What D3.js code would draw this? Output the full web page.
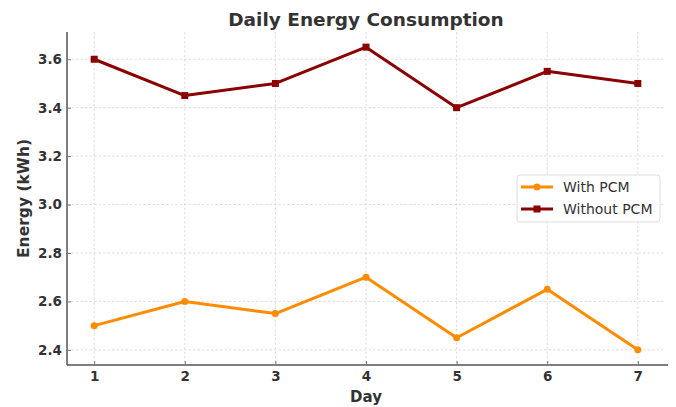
<!DOCTYPE html>
<html><head><meta charset="utf-8">
<script src="https://cdn.jsdelivr.net/npm/d3@7"></script>
<style>body{margin:0;background:#fff;}svg{display:block;}</style>
</head><body>
<svg id="c" width="676" height="407"></svg>
<script>
const days = [1,2,3,4,5,6,7];
const withPCM = [2.5,2.6,2.55,2.7,2.45,2.65,2.4];
const withoutPCM = [3.6,3.45,3.5,3.65,3.4,3.55,3.5];
const yTicks = [2.4,2.6,2.8,3.0,3.2,3.4,3.6];
const seriesNames = ["With PCM","Without PCM"];
const colors = ["#FF8C00","#8B0000"];

const svg = d3.select("#c");
const L=67, R=665, T=32, B=365;
const x = d3.scaleLinear().domain([0.7,7.3]).range([L,R]);
const y = d3.scaleLinear().domain([2.3375,3.7125]).range([B,T]);
const font = "DejaVu Sans, sans-serif";

// grid
svg.append("g").selectAll("line").data(days).join("line")
  .attr("x1",d=>x(d)).attr("x2",d=>x(d)).attr("y1",T).attr("y2",B)
  .attr("stroke","#d6d6d6").attr("stroke-width",0.8).attr("stroke-dasharray","2.5,2");
svg.append("g").selectAll("line").data(yTicks).join("line")
  .attr("x1",L).attr("x2",R).attr("y1",d=>y(d)).attr("y2",d=>y(d))
  .attr("stroke","#d6d6d6").attr("stroke-width",0.8).attr("stroke-dasharray","2.5,2");

// axes
const xa = svg.append("g").attr("transform",`translate(0,${B})`)
  .call(d3.axisBottom(x).tickValues(days).tickFormat(d3.format("d")).tickSize(-4).tickPadding(6));
const ya = svg.append("g").attr("transform",`translate(${L},0)`)
  .call(d3.axisLeft(y).tickValues(yTicks).tickFormat(d3.format(".1f")).tickSize(-4).tickPadding(5));
[xa,ya].forEach(a=>{
  a.select(".domain").attr("stroke","#555").attr("stroke-width",1.5);
  a.selectAll(".tick line").attr("stroke","#777");
  a.selectAll("text").attr("font-family",font).attr("font-size",13.5).attr("font-weight","bold").attr("fill","#333");
});
xa.select(".domain").attr("d",`M${L},0H${R+3}`);
ya.select(".domain").attr("d",`M0,${B}V${T}`);

// lines
const series = [withPCM, withoutPCM];
const line = d3.line().x((d,i)=>x(days[i])).y(d=>y(d));
series.forEach((s,k)=>{
  svg.append("path").datum(s).attr("d",line).attr("fill","none")
    .attr("stroke",colors[k]).attr("stroke-width",3).attr("stroke-linejoin","round");
  if(k===0){
    svg.append("g").selectAll("circle").data(s).join("circle")
      .attr("cx",(d,i)=>x(days[i])).attr("cy",d=>y(d)).attr("r",3.5).attr("fill",colors[k]);
  } else {
    svg.append("g").selectAll("rect").data(s).join("rect")
      .attr("x",(d,i)=>x(days[i])-3.5).attr("y",d=>y(d)-3.5).attr("width",7).attr("height",7).attr("fill",colors[k]);
  }
});

// title & labels
svg.append("text").attr("x",(L+R)/2).attr("y",26).attr("text-anchor","middle")
  .attr("font-family",font).attr("font-size",18.5).attr("font-weight","bold").attr("fill","#333")
  .text("Daily Energy Consumption");
svg.append("text").attr("x",(L+R)/2).attr("y",402).attr("text-anchor","middle")
  .attr("font-family",font).attr("font-size",15).attr("font-weight","bold").attr("fill","#333").text("Day");
svg.append("text").attr("transform",`translate(29,${(T+B)/2}) rotate(-90)`).attr("text-anchor","middle")
  .attr("font-family",font).attr("font-size",15.5).attr("font-weight","bold").attr("fill","#333").text("Energy (kWh)");

// legend
const lg = svg.append("g").attr("transform","translate(517,175)");
lg.append("rect").attr("width",143).attr("height",47).attr("rx",3)
  .attr("fill","#fff").attr("fill-opacity",0.85).attr("stroke","#ddd");
seriesNames.forEach((n,k)=>{
  const yy = 12 + k*22;
  lg.append("line").attr("x1",4).attr("x2",36).attr("y1",yy).attr("y2",yy)
    .attr("stroke",colors[k]).attr("stroke-width",3);
  if(k===0) lg.append("circle").attr("cx",20).attr("cy",yy).attr("r",3.5).attr("fill",colors[k]);
  else lg.append("rect").attr("x",16.5).attr("y",yy-3.5).attr("width",7).attr("height",7).attr("fill",colors[k]);
  lg.append("text").attr("x",46).attr("y",yy+5).attr("font-family",font).attr("font-size",14)
    .attr("fill","#333").text(n);
});
</script>
</body></html>
